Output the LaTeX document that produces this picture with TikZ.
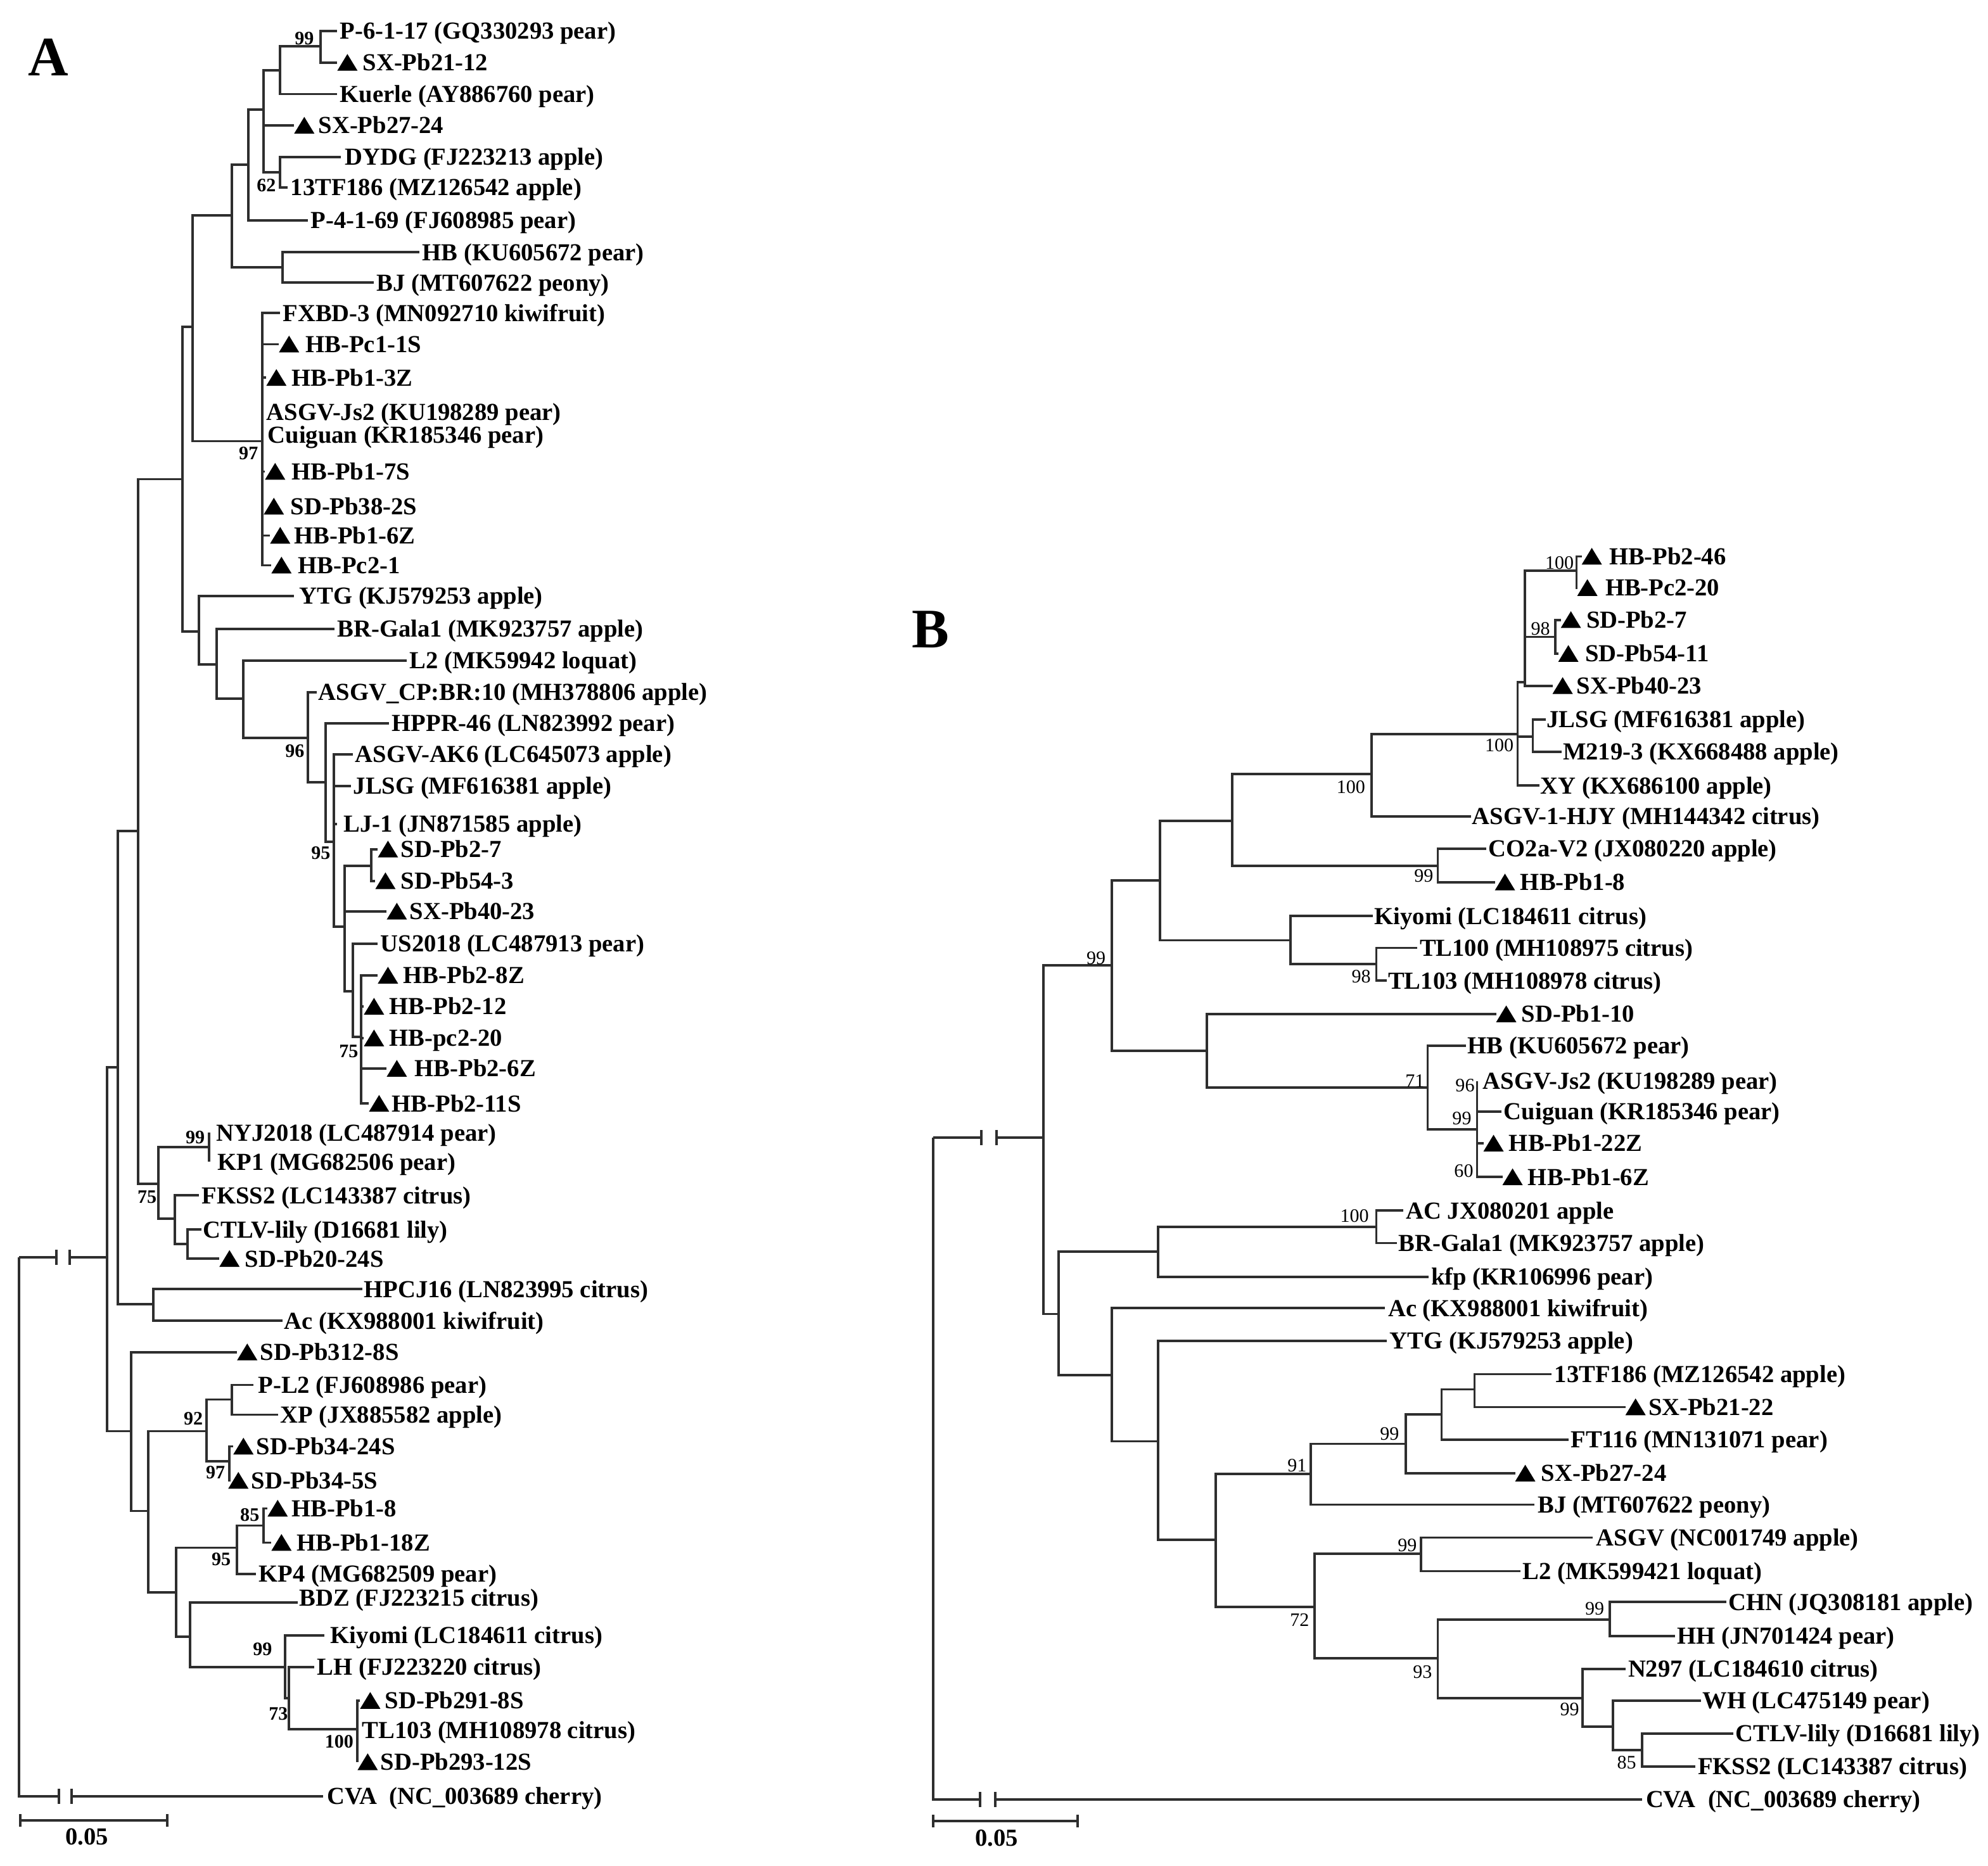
\documentclass[tikz,border=0pt]{standalone}
\usepackage{fontspec}
\setmainfont{Liberation Serif}
\tikzset{
  br/.style={line width=1.9pt, draw=black!82},
  lbl/.style={anchor=west, inner sep=0pt, text height=12.8pt, text depth=0pt, font=\fontsize{19.3}{22}\selectfont\bfseries},
  bsA/.style={anchor=center, inner sep=0pt, text height=10pt, text depth=0pt, font=\fontsize{15}{17}\selectfont\bfseries},
  bsB/.style={anchor=center, inner sep=0pt, text height=10pt, text depth=0pt, font=\fontsize{15}{17}\selectfont},
  panel/.style={anchor=center, inner sep=0pt, font=\fontsize{44}{48}\selectfont\bfseries},
  trimark/.style={fill=black},
}
% internal node: name, parent, x, y
\newcommand\inode[4]{\coordinate (#1) at (#3,#4); \draw[br] (#2) |- (#1);}
% plain leaf: name, parent, tip x, y, label x, text
\newcommand\leafnode[6]{\coordinate (#1) at (#3,#4); \draw[br] (#2) |- (#1);
  \node[lbl] (#1t) at (#5,#4) {#6};}
% leaf with triangle mark
\newcommand\trileaf[6]{\coordinate (#1) at (#3,#4); \draw[br] (#2) |- (#1);
  \fill[trimark] (#1) ++(0,6.4) -- ++(16,0) -- ++(-8,-13.2) -- cycle;
  \node[lbl] (#1t) at (#5,#4) {#6};}
\begin{document}
\begin{tikzpicture}[x=1pt,y=-1pt]
\useasboundingbox[fill=white] (0,0) rectangle (1568,1472);

% ================= TREE A =================
\node[panel] (LA) at (38,45) {A};
\coordinate (rA) at (15,992);
\coordinate (bA1) at (44.6,992);
\coordinate (bA2) at (55,992);
\coordinate (E) at (84.6,992);
\draw[br] (rA) -- (bA1);
\draw[br] (bA2) -- (E);
\draw[br] (bA1) ++(0,-6) -- ++(0,12);
\draw[br] (bA2) ++(0,-6) -- ++(0,12);

\inode{G}{E}{93}{842}
\inode{D}{E}{103.5}{1129}
\inode{K}{G}{109}{655.6}
\inode{F}{G}{121}{1029}
\inode{W}{K}{144}{378}
\inode{J}{K}{125}{933.7}
\inode{Z}{W}{152}{258}
\inode{V}{W}{157}{498}
\inode{Y}{Z}{183}{170}
\inode{FX}{Z}{207}{348}
\inode{X2}{Y}{196}{130}
\inode{HBBJ}{Y}{223}{211}
\inode{X}{X2}{208}{86.5}
\inode{QK}{X}{221}{55.5}
\inode{DY}{X}{221}{136}
\inode{N99}{QK}{253}{36.5}
\inode{U}{V}{171}{524}
\inode{T}{U}{192}{551}
\inode{S}{T}{243}{582}
\inode{R}{S}{257}{617}
\inode{Q}{R}{263.5}{664}
\inode{P}{Q}{272}{731}
\inode{O}{P}{293}{683}
\inode{N}{P}{278.5}{782}
\inode{M}{N}{285}{818}
\inode{J99}{J}{165}{905}
\inode{I}{J}{138}{961.5}
\inode{H}{I}{148}{981.5}
\inode{C}{D}{117}{1192}
\inode{B1}{C}{163}{1129}
\inode{B2}{C}{139}{1256}
\inode{PX}{B1}{183}{1104}
\inode{S97}{B1}{181}{1152.6}
\inode{N95}{B2}{187}{1221}
\inode{BL}{B2}{150}{1291}
\inode{N85}{N95}{208}{1203.5}
\inode{K99}{BL}{225}{1315}
\inode{N73}{K99}{228}{1339.5}
\inode{T100}{N73}{282}{1364}

\leafnode{a1}{N99}{266}{24.5}{268}{P-6-1-17 (GQ330293 pear)}
\trileaf{a2}{N99}{266}{49.4}{286}{SX-Pb21-12}
\leafnode{a3}{QK}{266}{74.2}{268}{Kuerle (AY886760 pear)}
\trileaf{a4}{X}{232}{99}{251}{SX-Pb27-24}
\leafnode{a5}{DY}{269}{124}{272}{DYDG (FJ223213 apple)}
\leafnode{a6}{DY}{227}{148}{229}{13TF186 (MZ126542 apple)}
\leafnode{a7}{X2}{243}{173.7}{245}{P-4-1-69 (FJ608985 pear)}
\leafnode{a8}{HBBJ}{331}{199}{333}{HB (KU605672 pear)}
\leafnode{a9}{HBBJ}{295}{223}{297}{BJ (MT607622 peony)}
\leafnode{a10}{FX}{221}{247}{223}{FXBD-3 (MN092710 kiwifruit)}
\trileaf{a11}{FX}{220}{271.6}{241}{HB-Pc1-1S}
\trileaf{a12}{FX}{210}{298}{230}{HB-Pb1-3Z}
\leafnode{a13}{FX}{207}{325}{210}{ASGV-Js2 (KU198289 pear)}
\leafnode{a14}{FX}{207}{343}{211}{Cuiguan (KR185346 pear)}
\trileaf{a15}{FX}{209}{372}{230}{HB-Pb1-7S}
\trileaf{a16}{FX}{208}{399.5}{229}{SD-Pb38-2S}
\trileaf{a17}{FX}{213}{422.5}{232}{HB-Pb1-6Z}
\trileaf{a18}{FX}{214}{446}{235}{HB-Pc2-1}
\leafnode{a19}{V}{232}{470}{236}{YTG (KJ579253 apple)}
\leafnode{a20}{U}{264}{496}{266}{BR-Gala1 (MK923757 apple)}
\leafnode{a21}{T}{321}{521}{323}{L2 (MK59942 loquat)}
\leafnode{a22}{S}{250}{546}{251}{ASGV\_CP:BR:10 (MH378806 apple)}
\leafnode{a23}{R}{307}{570.5}{309}{HPPR-46 (LN823992 pear)}
\leafnode{a24}{Q}{278.5}{595}{280}{ASGV-AK6 (LC645073 apple)}
\leafnode{a25}{Q}{277}{620}{278.5}{JLSG (MF616381 apple)}
\leafnode{a26}{Q}{266}{650}{271}{LJ-1 (JN871585 apple)}
\trileaf{a27}{O}{298}{670}{316}{SD-Pb2-7}
\trileaf{a28}{O}{296}{695}{316}{SD-Pb54-3}
\trileaf{a29}{P}{305}{719}{323}{SX-Pb40-23}
\leafnode{a30}{N}{298}{744.6}{300}{US2018 (LC487913 pear)}
\trileaf{a31}{M}{298}{769.5}{318}{HB-Pb2-8Z}
\trileaf{a32}{M}{287}{794}{307}{HB-Pb2-12}
\trileaf{a33}{M}{287}{819}{307}{HB-pc2-20}
\trileaf{a34}{M}{305}{843}{327}{HB-Pb2-6Z}
\trileaf{a35}{M}{291}{870.6}{309}{HB-Pb2-11S}
\leafnode{a36}{J99}{165}{893.6}{170.6}{NYJ2018 (LC487914 pear)}
\leafnode{a37}{J99}{165}{916.5}{171.5}{KP1 (MG682506 pear)}
\leafnode{a38}{I}{157}{943}{159}{FKSS2 (LC143387 citrus)}
\leafnode{a39}{H}{159}{970}{160}{CTLV-lily (D16681 lily)}
\trileaf{a40}{H}{173}{993}{193}{SD-Pb20-24S}
\leafnode{a41}{F}{286}{1017}{287}{HPCJ16 (LN823995 citrus)}
\leafnode{a42}{F}{223}{1042}{224}{Ac (KX988001 kiwifruit)}
\trileaf{a43}{D}{187}{1066.7}{205}{SD-Pb312-8S}
\leafnode{a44}{PX}{200}{1092.5}{203.5}{P-L2 (FJ608986 pear)}
\leafnode{a45}{PX}{219.5}{1116}{221}{XP (JX885582 apple)}
\trileaf{a46}{S97}{184}{1141}{202}{SD-Pb34-24S}
\trileaf{a47}{S97}{180}{1168}{198}{SD-Pb34-5S}
\trileaf{a48}{N85}{211}{1190}{230}{HB-Pb1-8}
\trileaf{a49}{N85}{214}{1217}{234}{HB-Pb1-18Z}
\leafnode{a50}{N95}{202}{1241.5}{204}{KP4 (MG682509 pear)}
\coordinate (a51) at (235,1264); \draw[br] (BL) |- (a51);
\node[lbl] (a51t) at (236,1260.5) {BDZ (FJ223215 citrus)};
\leafnode{a52}{K99}{256}{1290}{260.6}{Kiyomi (LC184611 citrus)}
\leafnode{a53}{N73}{248}{1315}{250}{LH (FJ223220 citrus)}
\trileaf{a54}{T100}{284}{1341.6}{303.5}{SD-Pb291-8S}
\leafnode{a55}{T100}{282}{1365}{285.6}{TL103 (MH108978 citrus)}
\trileaf{a56}{T100}{282}{1390}{300}{SD-Pb293-12S}

% outgroup A
\coordinate (cA1) at (46.4,1417);
\coordinate (cA2) at (56.4,1417);
\coordinate (cvaA) at (255,1417);
\draw[br] (rA) |- (cA1);
\draw[br] (cA2) -- (cvaA);
\draw[br] (cA1) ++(0,-6) -- ++(0,12);
\draw[br] (cA2) ++(0,-6) -- ++(0,12);
\node[lbl] (cvaAt) at (258,1417) {CVA\ \ (NC\_003689 cherry)};

% scale A
\coordinate (sA1) at (16,1436);
\coordinate (sA2) at (132,1436);
\draw[br] (sA1) -- (sA2);
\draw[br] (sA1) ++(0,-5) -- ++(0,10);
\draw[br] (sA2) ++(0,-5) -- ++(0,10);
\node[lbl, anchor=center] (sAt) at (68.5,1449) {0.05};

% bootstrap A
\node[bsA] (ba1) at (240,30) {99};
\node[bsA] (ba2) at (210,146) {62};
\node[bsA] (ba3) at (196,357.5) {97};
\node[bsA] (ba4) at (232.5,592.5) {96};
\node[bsA] (ba5) at (253,673) {95};
\node[bsA] (ba6) at (275,829) {75};
\node[bsA] (ba7) at (154,897) {99};
\node[bsA] (ba8) at (116,944) {75};
\node[bsA] (ba9) at (152.5,1119) {92};
\node[bsA] (ba10) at (170,1161.6) {97};
\node[bsA] (ba11) at (197,1195) {85};
\node[bsA] (ba12) at (174.5,1230) {95};
\node[bsA] (ba13) at (207,1301) {99};
\node[bsA] (ba14) at (219.5,1351.7) {73};
\node[bsA] (ba15) at (267.5,1374) {100};

% ================= TREE B =================
\node[panel] (LB) at (734,496.5) {B};
\coordinate (rB) at (736,897.6);
\coordinate (bB1) at (774,897.6);
\coordinate (bB2) at (786,897.6);
\coordinate (Lam) at (823,897.6);
\draw[br] (rB) -- (bB1);
\draw[br] (bB2) -- (Lam);
\draw[br] (bB1) ++(0,-6) -- ++(0,12);
\draw[br] (bB2) ++(0,-6) -- ++(0,12);

\inode{Eta}{Lam}{877}{761.6}
\inode{Nu}{Lam}{835}{1036.6}
\inode{Eps}{Eta}{915}{694.4}
\inode{Th}{Eta}{951.8}{828.8}
\inode{Del}{Eps}{971.8}{647.6}
\inode{Zet}{Eps}{1018}{741.8}
\inode{Gam}{Del}{1081.7}{610.6}
\inode{C99}{Del}{1134}{683}
\inode{Bet}{Gam}{1197}{579}
\inode{Alp}{Bet}{1202.6}{538}
\inode{B100}{Alp}{1243.4}{450.4}
\inode{B98}{Alp}{1226.5}{502.4}
\inode{JM}{Bet}{1209}{581}
\inode{T98}{Zet}{1085.5}{760.7}
\inode{N71}{Th}{1126}{858}
\inode{Io}{N71}{1165}{890.8}
\inode{Mu}{Nu}{913.3}{987.5}
\inode{Xi}{Nu}{877}{1084.8}
\inode{AC100}{Mu}{1085.5}{967.7}
\inode{Om}{Xi}{913.3}{1137}
\inode{Pi}{Om}{959}{1214.9}
\inode{Rho}{Pi}{1034}{1162.8}
\inode{Phi}{Pi}{1036.8}{1267.8}
\inode{Sig}{Rho}{1108.8}{1139}
\inode{Tau}{Sig}{1137}{1115.8}
\inode{Ups}{Tau}{1163}{1096}
\inode{Chi}{Phi}{1120.7}{1225.9}
\inode{Psi}{Phi}{1134}{1308}
\inode{W1}{Psi}{1269.6}{1277.8}
\inode{W2}{Psi}{1248}{1339.6}
\inode{W3}{W2}{1272.3}{1362}
\inode{B85}{W3}{1295}{1380.6}

\trileaf{b1}{B100}{1247.5}{439}{1269}{HB-Pb2-46}
\trileaf{b2}{B100}{1244}{463.7}{1266}{HB-Pc2-20}
\trileaf{b3}{B98}{1231}{489}{1251}{SD-Pb2-7}
\trileaf{b4}{B98}{1229}{515.7}{1250}{SD-Pb54-11}
\trileaf{b5}{Alp}{1224.5}{541}{1243.4}{SX-Pb40-23}
\leafnode{b6}{JM}{1219}{567.7}{1219.8}{JLSG (MF616381 apple)}
\leafnode{b7}{JM}{1231.6}{593}{1232.6}{M219-3 (KX668488 apple)}
\leafnode{b8}{Bet}{1214}{619.7}{1215}{XY (KX686100 apple)}
\leafnode{b9}{Gam}{1160}{644}{1161}{ASGV-1-HJY (MH144342 citrus)}
\leafnode{b10}{C99}{1172}{669.5}{1174}{CO2a-V2 (JX080220 apple)}
\trileaf{b11}{C99}{1179}{696}{1199}{HB-Pb1-8}
\leafnode{b12}{Zet}{1083}{722.7}{1084}{Kiyomi (LC184611 citrus)}
\leafnode{b13}{T98}{1118}{747.8}{1119.6}{TL100 (MH108975 citrus)}
\leafnode{b14}{T98}{1093.6}{773.6}{1094.7}{TL103 (MH108978 citrus)}
\trileaf{b15}{Th}{1180}{800}{1200}{SD-Pb1-10}
\leafnode{b16}{N71}{1156}{825}{1157.5}{HB (KU605672 pear)}
\leafnode{b17}{Io}{1165}{853}{1169.4}{ASGV-Js2 (KU198289 pear)}
\leafnode{b18}{Io}{1184}{877}{1186}{Cuiguan (KR185346 pear)}
\trileaf{b19}{Io}{1170}{902}{1190}{HB-Pb1-22Z}
\trileaf{b20}{Io}{1185}{928.5}{1205}{HB-Pb1-6Z}
\leafnode{b21}{AC100}{1107}{955}{1108.8}{AC JX080201 apple}
\leafnode{b22}{AC100}{1101.8}{980.6}{1103}{BR-Gala1 (MK923757 apple)}
\leafnode{b23}{Mu}{1127}{1007.3}{1128.8}{kfp (KR106996 pear)}
\leafnode{b24}{Xi}{1092.5}{1032}{1094.7}{Ac (KX988001 kiwifruit)}
\leafnode{b25}{Om}{1093.6}{1057.7}{1096}{YTG (KJ579253 apple)}
\leafnode{b26}{Ups}{1223.6}{1084}{1226}{13TF186 (MZ126542 apple)}
\trileaf{b27}{Ups}{1282}{1110}{1300}{SX-Pb21-22}
\leafnode{b28}{Tau}{1237}{1135.6}{1238.7}{FT116 (MN131071 pear)}
\trileaf{b29}{Sig}{1195}{1162.3}{1215.5}{SX-Pb27-24}
\leafnode{b30}{Rho}{1210}{1187}{1212.8}{BJ (MT607622 peony)}
\leafnode{b31}{Chi}{1256}{1213}{1258.8}{ASGV (NC001749 apple)}
\leafnode{b32}{Chi}{1199}{1239.4}{1200.8}{L2 (MK599421 loquat)}
\leafnode{b33}{W1}{1361.7}{1263.8}{1363}{CHN (JQ308181 apple)}
\leafnode{b34}{W1}{1321}{1290.7}{1322.7}{HH (JN701424 pear)}
\leafnode{b35}{W2}{1282}{1316.7}{1284}{N297 (LC184610 citrus)}
\leafnode{b36}{W3}{1341.6}{1341.6}{1342.7}{WH (LC475149 pear)}
\leafnode{b37}{B85}{1367}{1367.6}{1368.7}{CTLV-lily (D16681 lily)}
\leafnode{b38}{B85}{1337}{1393.5}{1339}{FKSS2 (LC143387 citrus)}

% outgroup B
\coordinate (cB1) at (773,1419.5);
\coordinate (cB2) at (785,1419.5);
\coordinate (cvaB) at (1295,1419.5);
\draw[br] (rB) |- (cB1);
\draw[br] (cB2) -- (cvaB);
\draw[br] (cB1) ++(0,-6) -- ++(0,12);
\draw[br] (cB2) ++(0,-6) -- ++(0,12);
\node[lbl] (cvaBt) at (1298,1419.5) {CVA\ \ (NC\_003689 cherry)};

% scale B
\coordinate (sB1) at (736,1436.5);
\coordinate (sB2) at (850,1436.5);
\draw[br] (sB1) -- (sB2);
\draw[br] (sB1) ++(0,-5) -- ++(0,10);
\draw[br] (sB2) ++(0,-5) -- ++(0,10);
\node[lbl, anchor=center] (sBt) at (786,1450) {0.05};

% bootstrap B
\node[bsB] (bb1) at (1230,444) {100};
\node[bsB] (bb2) at (1215,496) {98};
\node[bsB] (bb3) at (1182.5,588) {100};
\node[bsB] (bb4) at (1065.5,621) {100};
\node[bsB] (bb5) at (1123,691) {99};
\node[bsB] (bb6) at (1073.6,770) {98};
\node[bsB] (bb7) at (864.5,755.6) {99};
\node[bsB] (bb8) at (1116,852.9) {71};
\node[bsB] (bb9) at (1155.5,856) {96};
\node[bsB] (bb10) at (1153,882) {99};
\node[bsB] (bb11) at (1154.5,923.8) {60};
\node[bsB] (bb12) at (1068.4,959) {100};
\node[bsB] (bb13) at (1023,1156) {91};
\node[bsB] (bb14) at (1096,1131) {99};
\node[bsB] (bb15) at (1025,1277.8) {72};
\node[bsB] (bb16) at (1110,1219) {99};
\node[bsB] (bb17) at (1122,1318.7) {93};
\node[bsB] (bb18) at (1257.7,1269) {99};
\node[bsB] (bb19) at (1238,1348.6) {99};
\node[bsB] (bb20) at (1283,1390.5) {85};
\end{tikzpicture}
\end{document}
